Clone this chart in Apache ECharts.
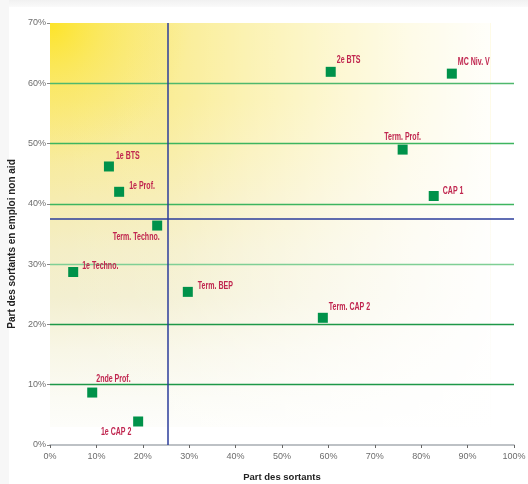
<!DOCTYPE html>
<html>
<head>
<meta charset="utf-8">
<script src="https://cdn.jsdelivr.net/npm/echarts@6/dist/echarts.min.js"></script>
<style>
html,body{margin:0;padding:0;background:#fff;}
#chart{width:528px;height:484px;}
</style>
</head>
<body>
<div id="chart"></div>
<script>
// Data
var names = ['2e BTS','MC Niv. V','Term. Prof.','CAP 1','1e BTS','1e Prof.','Term. Techno.','1e Techno.','Term. BEP','2nde Prof.','1e CAP 2','Term. CAP 2'];
var partSortants = [60.5, 86.6, 76.0, 82.7, 12.7, 14.9, 23.1, 5.0, 29.7, 9.1, 19.0, 58.8];
var partEmploi = [61.9, 61.6, 49.0, 41.3, 46.2, 42.0, 36.4, 28.7, 25.4, 8.7, 3.9, 21.1];
var refX = 25.4;
var refY = 37.5;
var xTicks = [0,10,20,30,40,50,60,70,80,90,100];
var yTicks = [0,10,20,30,40,50,60,70];

// Label placement (style only): [align, dx, dy] relative to the marker centre
var labelPlace = {
  '2e BTS': ['left', 6, -12],
  'MC Niv. V': ['left', 6, -12],
  'Term. Prof.': ['center', 0, -12],
  'CAP 1': ['left', 9, -5],
  '1e BTS': ['left', 7, -10],
  '1e Prof.': ['left', 10, -6],
  'Term. Techno.': ['center', -21, 12],
  '1e Techno.': ['left', 9, -6],
  'Term. BEP': ['left', 10, -6],
  '2nde Prof.': ['left', 4, -13],
  '1e CAP 2': ['center', -22, 11],
  'Term. CAP 2': ['left', 6, -11]
};

var narrow = "'Liberation Sans Narrow', 'Liberation Sans', sans-serif";
var labelFont = 'bold 10.5px ' + narrow;

// condense labels horizontally to mimic the condensed typeface of the original
var cv = document.createElement('canvas').getContext('2d');
cv.font = labelFont;
var condense = Math.min(1, 47 / cv.measureText('Term. Techno.').width);

var points = names.map(function (n, i) {
  return { name: n, value: [partSortants[i], partEmploi[i]] };
});

var chart = echarts.init(document.getElementById('chart'), null, {renderer: 'canvas'});
chart.setOption({
  backgroundColor: '#ffffff',
  animation: false,
  grid: {
    left: 50, right: 14, top: 23, bottom: 39,
    outerBoundsMode: 'none',
    show: false
  },
  xAxis: {
    type: 'value', min: 0, max: 100, interval: 10,
    name: 'Part des sortants', nameLocation: 'middle', nameGap: 27,
    nameTextStyle: {fontFamily: narrow, fontWeight: 'bold', fontSize: 9.5, color: '#222'},
    axisLine: {show: true, lineStyle: {color: '#a8adb3', width: 1.5}},
    axisTick: {show: true, length: 3, lineStyle: {color: '#666'}},
    axisLabel: {fontSize: 9, color: '#6d6d6d', margin: 7, fontFamily: 'Liberation Sans, Arial, sans-serif', formatter: function (v) { return v + '%'; }},
    splitLine: {show: false}
  },
  yAxis: {
    type: 'value', min: 0, max: 70, interval: 10,
    name: 'Part des sortants en emploi non aid', nameLocation: 'middle', nameGap: 31, nameRotate: 90,
    nameTextStyle: {fontFamily: narrow, fontWeight: 'bold', fontSize: 10, color: '#222', padding: [0, 20, 0, 0]},
    axisLine: {show: false},
    axisTick: {show: true, length: 3, lineStyle: {color: '#888'}},
    axisLabel: {fontSize: 9, color: '#6d6d6d', margin: 4, fontFamily: 'Liberation Sans, Arial, sans-serif', formatter: function (v) { return v + '%'; }},
    splitLine: {show: true, lineStyle: {width: 1.3, color: ['transparent', '#1e9848', '#1e9848', '#7fcf95', '#3db55f', '#3db55f', '#4fb86d', 'transparent']}}
  },
  series: [{
    type: 'scatter',
    symbol: 'rect',
    symbolSize: 10,
    itemStyle: {color: '#00924a', opacity: 1},
    data: points,
    label: {show: false},
    markLine: {
      silent: true,
      symbol: ['none', 'none'],
      label: {show: false},
      lineStyle: {color: '#2b3c9b', width: 1.5, type: 'solid'},
      data: [{xAxis: refX}, {yAxis: refY}]
    },
    z: 5
  }, {
    type: 'custom',
    data: points,
    silent: true,
    z: 6,
    renderItem: function (params, api) {
      var p = api.coord([api.value(0), api.value(1)]);
      var n = names[params.dataIndex];
      var pl = labelPlace[n];
      return {
        type: 'text',
        x: p[0] + pl[1],
        y: p[1] + pl[2],
        scaleX: condense,
        style: {
          text: n,
          font: labelFont,
          fill: '#c0264f',
          align: pl[0],
          verticalAlign: 'middle'
        }
      };
    }
  }]
});

// Background decoration placed from the grid's own scale
var tl = chart.convertToPixel({gridIndex: 0}, [0, 70]);
var br = chart.convertToPixel({gridIndex: 0}, [95, 3]);
var bw = br[0] - tl[0], bh = br[1] - tl[1];
chart.setOption({
  graphic: [
    { type: 'rect', z: -1, silent: true, shape: {x: 0, y: 0, width: 528, height: 7}, style: {fill: {type: 'linear', x: 0, y: 0, x2: 0, y2: 1, colorStops: [{offset: 0, color: '#f1f1f1'}, {offset: 1, color: '#fafafa'}]}} },
    { type: 'rect', z: -1, silent: true, shape: {x: 0, y: 0, width: 9, height: 484}, style: {fill: '#f7f7f7'} },
    { type: 'rect', z: -1, silent: true, shape: {x: tl[0], y: tl[1], width: bw, height: bh},
      style: {fill: {type: 'linear', x: 0, y: 0, x2: 0, y2: 1, colorStops: [
        {offset: 0, color: '#f9ea80'},
        {offset: 0.19, color: '#f9ea85'},
        {offset: 0.31, color: '#f8eb98'},
        {offset: 0.44, color: '#f6ecb0'},
        {offset: 0.56, color: '#f4eec5'},
        {offset: 0.68, color: '#f3efd0'},
        {offset: 0.81, color: '#f8f6e6'},
        {offset: 0.93, color: '#fbfbf4'},
        {offset: 1, color: '#fdfdfa'}
      ]}} },
    { type: 'rect', z: -1, silent: true, shape: {x: tl[0], y: tl[1], width: bw, height: bh},
      style: {fill: {type: 'linear', x: 0, y: 0, x2: 1, y2: 0, colorStops: [
        {offset: 0, color: 'rgba(255,255,255,0)'},
        {offset: 0.25, color: 'rgba(255,255,255,0.12)'},
        {offset: 0.45, color: 'rgba(255,255,255,0.4)'},
        {offset: 0.65, color: 'rgba(255,255,255,0.64)'},
        {offset: 0.82, color: 'rgba(255,255,255,0.82)'},
        {offset: 1, color: 'rgba(255,255,255,0.96)'}
      ]}} },
    { type: 'rect', z: -1, silent: true, shape: {x: tl[0], y: tl[1], width: 140, height: 140},
      style: {fill: {type: 'radial', x: 0, y: 0, r: 1, colorStops: [
        {offset: 0, color: 'rgba(253,228,40,1)'},
        {offset: 0.4, color: 'rgba(252,230,70,0.55)'},
        {offset: 1, color: 'rgba(251,232,110,0)'}
      ]}} }
  ]
});
</script>
</body>
</html>
